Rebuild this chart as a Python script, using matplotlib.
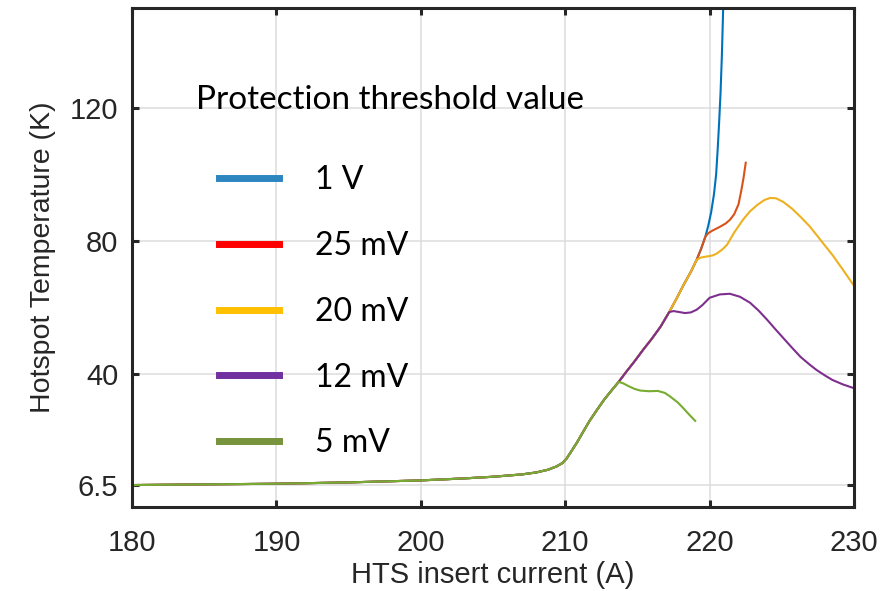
import matplotlib
matplotlib.use("Agg")
import matplotlib.pyplot as plt
from matplotlib.lines import Line2D

# common rise shared by every curve
trunk_x = [180, 185, 190, 195, 200, 203, 205, 207, 208, 208.8, 209.4, 209.8, 210.1, 210.4,
           210.8, 211.2, 211.7, 212.2, 212.7, 213.2, 213.7]
trunk_y = [6.6, 6.8, 7.0, 7.4, 8.0, 8.6, 9.1, 9.8, 10.4, 11.2, 12.2, 13.2, 14.6, 16.6,
           19.3, 22.3, 26, 29.2, 32.3, 35, 37.6]
upper_x = [214.2, 214.8, 215.4, 216.0, 216.6, 217.2]
upper_y = [40.5, 43.8, 47.3, 50.6, 54.2, 58.6]
top_x = [217.7, 218.2, 218.7, 219.1]
top_y = [62.6, 66.8, 70.7, 74.3]

x_1V = trunk_x + upper_x + top_x + [219.4, 219.7, 219.9, 220.1, 220.3, 220.45, 220.55, 220.65,
                                    220.75, 220.85, 220.95]
y_1V = trunk_y + upper_y + top_y + [77.5, 81.2, 84.5, 88.5, 94, 100, 107, 115, 124, 136, 152]

x_25mV = trunk_x + upper_x + top_x + [219.4, 219.7, 219.9, 220.2, 220.7, 221.1, 221.4, 221.7,
                                      222.0, 222.2, 222.35, 222.5]
y_25mV = trunk_y + upper_y + top_y + [77.5, 81.2, 82.3, 83.1, 84.2, 85.2, 86.3, 88, 91, 95.3,
                                      99, 103.5]

x_20mV = trunk_x + upper_x + top_x + [219.4, 219.8, 220.2, 220.5, 220.9, 221.2, 221.7, 222.3,
                                      222.8, 223.3, 223.8, 224.2, 224.6, 225.1, 225.7, 226.3,
                                      226.9, 227.4, 228.0, 228.5, 229.2, 230]
y_20mV = trunk_y + upper_y + top_y + [75.0, 75.3, 75.6, 76.2, 77.5, 78.8, 82.5, 86.3, 88.9, 90.8,
                                      92.3, 92.9, 92.8, 91.7, 89.7, 87.2, 84.5, 81.8, 78.5, 75.8,
                                      71.5, 66.5]

x_12mV = trunk_x + upper_x + [217.5, 217.9, 218.3, 218.7, 219.1, 219.5, 220.0, 220.7, 221.4,
                              222.1, 222.8, 223.4, 224.0, 224.5, 225.1, 225.7, 226.3, 226.9,
                              227.4, 228.0, 228.5, 229.2, 230]
y_12mV = trunk_y + upper_y + [58.9, 58.6, 58.3, 58.5, 59.3, 60.7, 62.9, 63.9, 64.1, 63.2, 61.4,
                              59.0, 56.2, 53.7, 50.8, 47.9, 45.1, 42.9, 41.2, 39.5, 38.2, 36.9,
                              35.7]

x_5mV = trunk_x + [214.0, 214.4, 214.8, 215.2, 215.8, 216.4, 216.9, 217.3, 217.8, 218.2, 218.6, 219.0]
y_5mV = trunk_y + [37.2, 36.3, 35.5, 35.0, 34.8, 34.9, 34.3, 33.1, 31.4, 29.6, 27.7, 25.9]

labels = ['1 V', '25 mV', '20 mV', '12 mV', '5 mV']
line_colors = ['#0072BD', '#D95319', '#EDB120', '#7E2F8E', '#77AC30']
legend_colors = ['#2E86C1', '#FF0000', '#FFC000', '#7030A0', '#77933C']
xticks = [180, 190, 200, 210, 220, 230]
yticks = [6.5, 40, 80, 120]

fig = plt.figure(figsize=(8.94, 5.91), dpi=100)
ax = fig.add_axes([0.1477, 0.1421, 0.8076, 0.8444])

series = [(x_1V, y_1V), (x_25mV, y_25mV), (x_20mV, y_20mV), (x_12mV, y_12mV), (x_5mV, y_5mV)]
for (xs, ys), c in zip(series, line_colors):
    ax.plot(xs, ys, color=c, lw=1.5)

ax.set_xlim(180, 230)
ax.set_ylim(0, 150)
ax.set_xticks(xticks)
ax.set_yticks(yticks)
ax.set_yticklabels(['6.5', '40', '80', '120'])
ax.grid(True, color='#dcdcdc', lw=1.1)
ax.set_axisbelow(True)

for s in ax.spines.values():
    s.set_linewidth(2.2)
    s.set_color('#262626')
ax.tick_params(direction='in', length=5, width=2.2, color='#262626',
               top=True, right=True, labelsize=21, labelcolor='#262626')
ax.tick_params(axis='x', pad=16)
ax.tick_params(axis='y', pad=10)
for t in ax.get_xticklabels() + ax.get_yticklabels():
    t.set_fontfamily('Liberation Sans')

ax.set_xlabel('HTS insert current (A)', fontsize=21, family='Liberation Sans',
              color='#262626', labelpad=3)
ax.set_ylabel('Hotspot Temperature (K)', fontsize=20.5, family='Liberation Sans',
              color='#262626', labelpad=10)

# legend drawn like the original annotation
ax.text(0.0886, 0.7976, 'Protection threshold value', transform=ax.transAxes,
        fontsize=24, family='Lato', va='baseline', ha='left', color='black')
handles = [Line2D([], [], color=c, lw=5) for c in legend_colors]
ax.legend(handles, labels, loc='upper left', bbox_to_anchor=(0.1205, 0.685),
          frameon=False, prop={'family': 'Lato', 'size': 23},
          handlelength=1.88, handletextpad=1.13, labelspacing=1.12,
          borderpad=0, borderaxespad=0)

fig.savefig('out.png', dpi=100, facecolor='white')
